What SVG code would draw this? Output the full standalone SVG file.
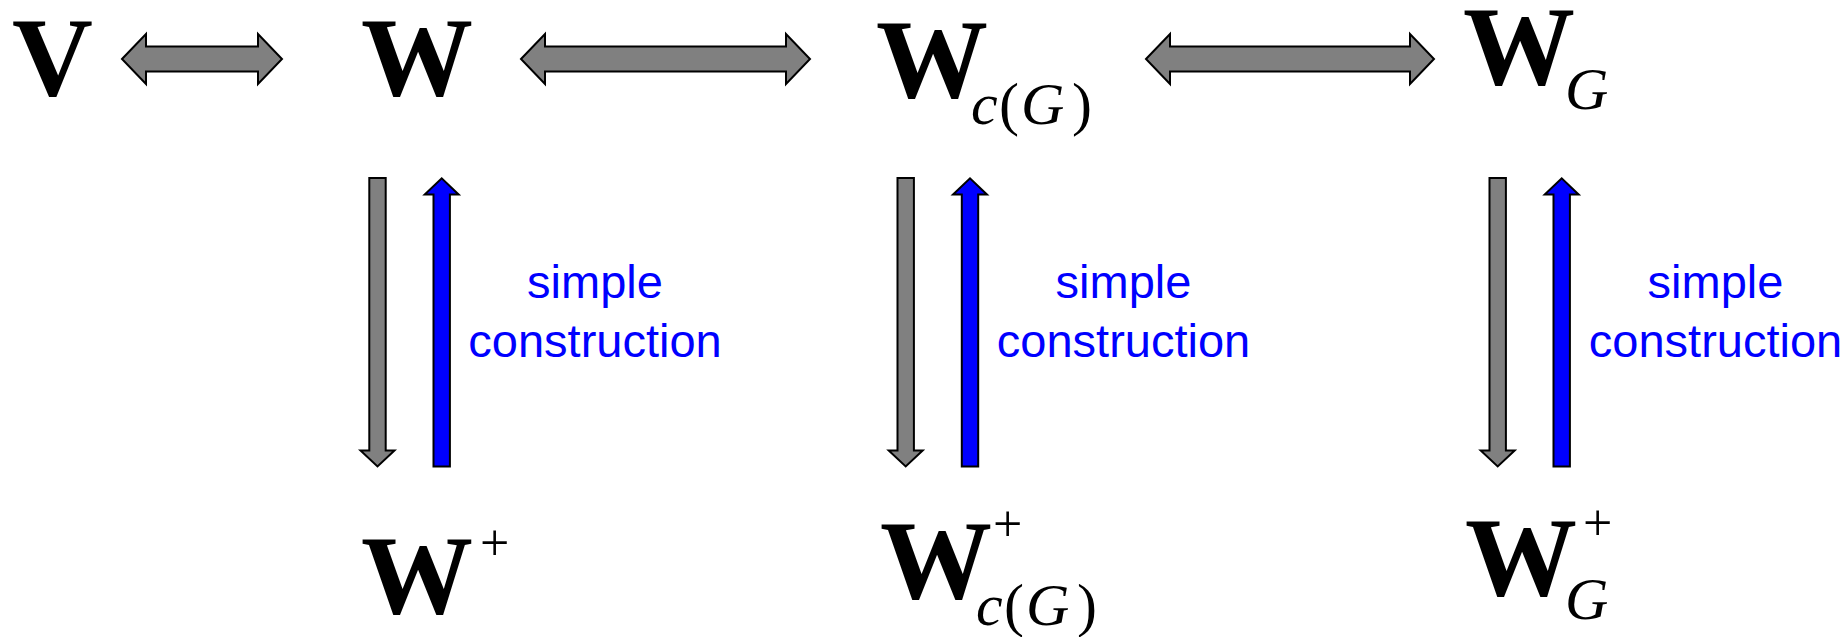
<svg xmlns="http://www.w3.org/2000/svg" xmlns:xlink="http://www.w3.org/1999/xlink" width="1847" height="637" viewBox="0 0 1847 637">
<style>
.bw{font-family:"Liberation Serif","Times New Roman",serif;font-weight:bold;font-size:112px;fill:#000}
.it{font-family:"Liberation Serif","Times New Roman",serif;font-style:italic;font-size:60px;fill:#000}
.up{font-style:normal}
.pl{font-family:"Liberation Serif","Times New Roman",serif;font-size:52px;fill:#000}
.lbl{font-family:"Liberation Sans",Arial,sans-serif;font-size:47px;fill:#0000FF;text-anchor:middle}
.ga{fill:#808080;stroke:#000;stroke-width:2;stroke-linejoin:miter}
.ba{fill:#0000FF;stroke:#000;stroke-width:2;stroke-linejoin:miter}
</style>
<defs>
<path id="down" d="M-8.2,178 L8.2,178 L8.2,450.5 L17,450.5 L0,466.5 L-17,450.5 L-8.2,450.5 Z"/>
<path id="up" d="M-8.2,466.5 L8.2,466.5 L8.2,194.5 L17,194.5 L0,178.3 L-17,194.5 L-8.2,194.5 Z"/>
</defs>
<rect width="1847" height="637" fill="#fff"/>
<g id="connectors">
<path class="ga" d="M122,59 L146,34 L146,46.5 L258,46.5 L258,34 L282,59 L258,84 L258,71.5 L146,71.5 L146,84 Z"/>
<path class="ga" d="M521,59 L545,34 L545,46.5 L786,46.5 L786,34 L810,59 L786,84 L786,71.5 L545,71.5 L545,84 Z"/>
<path class="ga" d="M1146,59 L1170,34 L1170,46.5 L1410,46.5 L1410,34 L1434,59 L1410,84 L1410,71.5 L1170,71.5 L1170,84 Z"/>
<use xlink:href="#down" href="#down" class="ga" transform="translate(377.5,0)"/>
<use xlink:href="#up" href="#up" class="ba" transform="translate(441.7,0)"/>
<use xlink:href="#down" href="#down" class="ga" transform="translate(905.7,0)"/>
<use xlink:href="#up" href="#up" class="ba" transform="translate(970,0)"/>
<use xlink:href="#down" href="#down" class="ga" transform="translate(1497.7,0)"/>
<use xlink:href="#up" href="#up" class="ba" transform="translate(1561.7,0)"/>
<text class="lbl"><tspan x="595" y="298">simple</tspan><tspan x="595" y="357">construction</tspan></text>
<text class="lbl"><tspan x="1123.5" y="298">simple</tspan><tspan x="1123.5" y="357">construction</tspan></text>
<text class="lbl"><tspan x="1715.5" y="298">simple</tspan><tspan x="1715.5" y="357">construction</tspan></text>
</g>
<g id="node-V"><text class="bw" x="12" y="95">V</text></g>
<g id="node-W"><text class="bw" x="361" y="95">W</text></g>
<g id="node-Wc"><text class="bw" x="876" y="97">W</text><text class="it" y="124"><tspan x="971">c</tspan><tspan class="up" x="999">(</tspan><tspan x="1021">G</tspan><tspan class="up" x="1072">)</tspan></text></g>
<g id="node-WG"><text class="bw" x="1463" y="84">W</text><text class="it" x="1565" y="109">G</text></g>
<g id="node-Wplus"><text class="bw" x="361" y="613">W</text><text class="pl" x="480" y="560">+</text></g>
<g id="node-Wcplus"><text class="bw" x="880" y="598">W</text><text class="pl" x="993" y="541">+</text><text class="it" y="625"><tspan x="976">c</tspan><tspan class="up" x="1004">(</tspan><tspan x="1026">G</tspan><tspan class="up" x="1077">)</tspan></text></g>
<g id="node-WGplus"><text class="bw" x="1465" y="595">W</text><text class="pl" x="1583" y="540">+</text><text class="it" x="1565" y="619">G</text></g>
</svg>
